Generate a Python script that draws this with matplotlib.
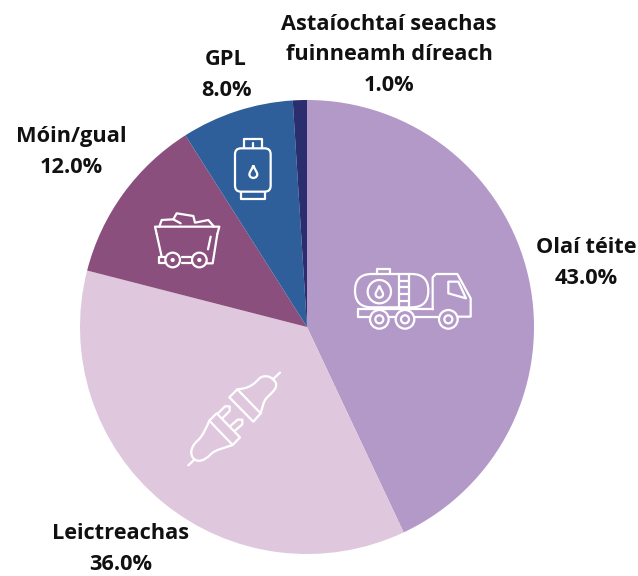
import matplotlib
matplotlib.use("Agg")
import matplotlib.pyplot as plt
from matplotlib.patches import Circle, Polygon, FancyBboxPatch, PathPatch
from matplotlib.path import Path
import numpy as np

categories = ["Olaí téite", "Leictreachas", "Móin/gual", "GPL",
              "Astaíochtaí seachas\nfuinneamh díreach"]
values = [43.0, 36.0, 12.0, 8.0, 1.0]
colors = ["#B399C8", "#DFC8DD", "#8A4F7D", "#2E5F9B", "#2A2E6E"]
label_pos = [(586, 263), (121, 549), (71, 152), (226, 75), (389, 55)]

W, H = 638, 576
fig = plt.figure(figsize=(W/100, H/100), dpi=100, facecolor="white")
cx, cy, R = 307, 327, 227
ax = fig.add_axes([(cx-R)/W, 1-(cy+R)/H, 2*R/W, 2*R/H])
ax.pie(values, colors=colors, startangle=90, counterclock=False, radius=1)
ax.set_xlim(-1, 1); ax.set_ylim(-1, 1); ax.set_aspect("equal")

ov = fig.add_axes([0, 0, 1, 1], facecolor="none")
ov.set_xlim(0, W); ov.set_ylim(H, 0); ov.axis("off")

for c, v, (x, y) in zip(categories, values, label_pos):
    ov.text(x, y, f"{c}\n{v:.1f}%", ha="center", va="center", fontsize=15.7,
            fontweight="bold", family="Open Sans", color="#111111", linespacing=1.58)

LW = 1.6
class Icon:
    def __init__(self, ox, oy, s=1/3):
        self.ox, self.oy, self.s = ox, oy, s
    def pt(self, x, y):
        return (self.ox + x*self.s, self.oy + y*self.s)
    def line(self, pts, close=False, lw=LW):
        p = [self.pt(*q) for q in pts]
        ov.add_patch(Polygon(p, closed=close, fill=False, ec="white", lw=lw, joinstyle="round", capstyle="round"))
    def circ(self, x, y, r, lw=LW):
        ov.add_patch(Circle(self.pt(x, y), r*self.s, fill=False, ec="white", lw=lw))
    def rrect(self, x0, y0, x1, y1, r, lw=LW):
        a, b = self.pt(x0, y0), self.pt(x1, y1)
        rr = r*self.s
        ov.add_patch(FancyBboxPatch((a[0]+rr, a[1]+rr), b[0]-a[0]-2*rr, b[1]-a[1]-2*rr,
                                    boxstyle=f"round,pad={rr}", fill=False, ec="white", lw=lw))
    def drop(self, x, y, h, lw=LW):
        w = h*0.62
        v = [(x, y-h/2), (x+w*0.2, y-h*0.15), (x+w/2, y+h*0.05), (x+w/2, y+h*0.2),
             (x+w/2, y+h*0.5), (x, y+h*0.5), (x, y+h*0.5),
             (x, y+h*0.5), (x-w/2, y+h*0.5), (x-w/2, y+h*0.2),
             (x-w/2, y+h*0.05), (x-w*0.2, y-h*0.15), (x, y-h/2)]
        codes = [Path.MOVETO] + [Path.CURVE4]*12
        ov.add_patch(PathPatch(Path([self.pt(*q) for q in v], codes), fill=False, ec="white", lw=lw))
    def curve(self, pts, lw=LW):
        codes = [Path.MOVETO] + [Path.CURVE4]*(len(pts)-1)
        ov.add_patch(PathPatch(Path([self.pt(*q) for q in pts], codes), fill=False, ec="white", lw=lw, capstyle="round"))

# Tanker truck
t = Icon(340, 250)
t.rrect(45, 72, 265, 172, 50)
t.line([(110, 72), (110, 58), (150, 58), (150, 72)])
t.circ(118, 125, 35); t.drop(118, 125, 36)
t.line([(178, 72), (178, 172)]); t.line([(208, 72), (208, 172)])
for y in (92, 112, 132, 152):
    t.line([(178, y), (208, y)])
t.line([(55, 178), (55, 200), (88, 200)]); t.line([(55, 178), (278, 178)])
t.line([(148, 200), (165, 200)]); t.line([(225, 200), (295, 200)])
t.line([(278, 178), (278, 82), (288, 72), (352, 72), (392, 145), (392, 200), (355, 200)])
t.line([(325, 95), (355, 95), (378, 145), (325, 130)], close=True)
for x in (118, 195, 325):
    t.circ(x, 208, 28); t.circ(x, 208, 12)

# Gas cylinder and coal cart
g = Icon(140, 130)
g.rrect(285, 55, 392, 185, 18)
g.line([(313, 55), (313, 27), (365, 27), (365, 55)])
g.line([(338, 40), (338, 55)])
g.line([(303, 185), (303, 207), (375, 207), (375, 185)])
g.drop(340, 125, 38)
g.line([(50, 312), (45, 290), (238, 290), (232, 312)])
g.line([(50, 312), (65, 380)]); g.line([(232, 312), (218, 400), (198, 400)])
g.line([(212, 320), (204, 358)])
g.line([(75, 380), (58, 380), (58, 400), (75, 400)])
g.circ(98, 390, 22); g.circ(178, 390, 22)
g.circ(98, 390, 3); g.circ(178, 390, 3)
g.line([(125, 382), (152, 382)]); g.line([(125, 398), (152, 398)])
g.line([(58, 290), (65, 270), (100, 268), (110, 250), (160, 258), (165, 278), (205, 270), (222, 290)])
g.line([(100, 268), (122, 280)])

# Plug and socket
p = Icon(170, 360)
p.line([(178, 112), (202, 88), (272, 160), (250, 185)], close=True)
p.curve([(202, 88), (240, 85), (255, 70), (268, 55), (285, 42), (310, 50), (318, 70),
         (322, 90), (300, 100), (285, 120), (278, 135), (275, 150), (272, 160)])
p.line([(308, 58), (330, 38)])
p.line([(118, 182), (140, 160), (210, 232), (188, 255)], close=True)
p.curve([(118, 182), (110, 200), (100, 225), (85, 240), (70, 252), (55, 275), (70, 295),
         (85, 310), (105, 300), (120, 285), (135, 268), (170, 262), (188, 255)])
p.line([(72, 300), (55, 316)])
for (a, b) in [((150, 168), (172, 146)), ((188, 205), (210, 186))]:
    d = np.array([0.7, -0.7])
    n = np.array([0.7, 0.7]) * 10
    A, B = np.array(a), np.array(b)
    p.line([tuple(A-n), tuple(B-n), tuple(B+d*10), tuple(B+n), tuple(A+n)])

fig.savefig("out.png", dpi=100, facecolor="white")
